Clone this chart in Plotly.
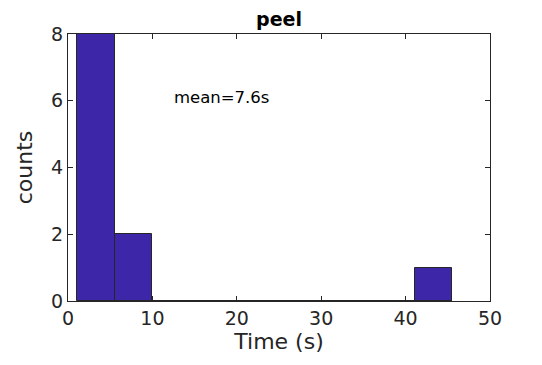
import plotly.graph_objects as go

bin_edges = [1.1, 5.54, 9.98, 14.42, 18.86, 23.3, 27.74, 32.18, 36.62, 41.06, 45.5]
counts = [8, 2, 0, 0, 0, 0, 0, 0, 0, 1]
title_text = "peel"
annotation_text = "mean=7.6s"
x_ticks = [0, 10, 20, 30, 40, 50]
y_ticks = [0, 2, 4, 6, 8]

centers = [(a + b) / 2 for a, b in zip(bin_edges[:-1], bin_edges[1:])]
widths = [b - a for a, b in zip(bin_edges[:-1], bin_edges[1:])]

FONT = "DejaVu Sans"
AX = "#262626"

fig = go.Figure()
fig.add_trace(go.Bar(
    x=centers, y=counts, width=widths,
    marker=dict(color="rgb(62,38,168)", line=dict(color=AX, width=1)),
    showlegend=False,
))
# zero-count bins drawn as flat outlines at 0
fig.add_trace(go.Scatter(
    x=[bin_edges[0], bin_edges[-1]], y=[0, 0], mode="lines",
    line=dict(color=AX, width=1.5), showlegend=False, hoverinfo="skip",
))

fig.update_layout(
    width=542, height=365,
    margin=dict(l=60, r=60, t=26, b=72),
    paper_bgcolor="white", plot_bgcolor="white",
    font=dict(family=FONT, color=AX, size=19),
    title=dict(text="<b>" + title_text + "</b>", x=0.5, xanchor="center",
               y=1 - 5 / 365, yanchor="top", font=dict(size=19, color="black")),
    bargap=0,
    annotations=[dict(x=12.3, y=6.1, xref="x", yref="y", text=annotation_text,
                      showarrow=False, xanchor="left", yanchor="middle",
                      font=dict(size=16.5, color="black"))],
)
fig.update_xaxes(
    range=[0, 50], tickvals=x_ticks, ticks="inside", ticklen=5, tickcolor=AX,
    showline=True, linecolor=AX, linewidth=1, mirror="ticks", showgrid=False,
    zeroline=False, title=dict(text="Time (s)", font=dict(size=22), standoff=3),
)
fig.update_yaxes(
    range=[0, 8], tickvals=y_ticks, ticks="inside", ticklen=5, tickcolor=AX,
    showline=True, linecolor=AX, linewidth=1, mirror="ticks", showgrid=False,
    zeroline=False, title=dict(text="counts", font=dict(size=22), standoff=12),
)

fig.write_html("out.html")
